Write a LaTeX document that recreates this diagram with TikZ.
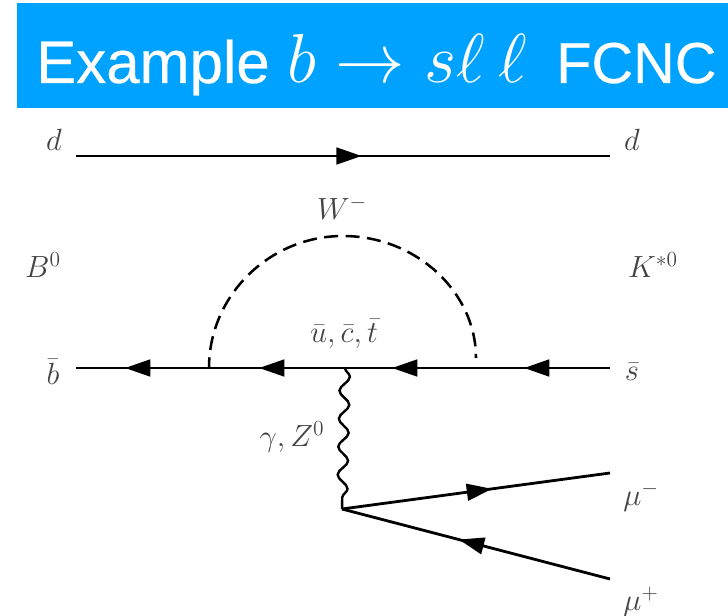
\documentclass[tikz,border=0pt]{standalone}
\usepackage{fix-cm}
\usepackage{amsmath,amssymb}
\usepackage{fontspec}
\setmainfont{Liberation Sans}
\newfontfamily\headfont[FakeBold=0.35]{Liberation Sans}
\usepackage{xcolor}
\usetikzlibrary{arrows.meta,positioning,decorations.markings,decorations.pathmorphing}
\definecolor{BannerBlue}{HTML}{00A2FF}
\definecolor{LabelGray}{HTML}{444444}

\begin{document}
\begin{tikzpicture}[
    x=0.75pt,y=-0.75pt,
    banner/.style={fill=BannerBlue,minimum width=533.25pt,minimum height=78.75pt,inner sep=0pt},
    headline/.style={text=white,inner sep=0pt,font=\headfont\fontsize{45}{50}\selectfont},
    lab/.style={font=\fontsize{23}{26}\selectfont,text=LabelGray,inner sep=0pt},
    fermion/.style={line width=2.1pt,black,postaction={decorate},
                decoration={markings,mark=at position #1 with
                {\arrow{Triangle[length=19pt,width=12.5pt]}}}},
    wboson/.style={line width=1.9pt,black,dash pattern=on 10.5pt off 5.6pt,dash phase=2.5pt},
    photon/.style={line width=1.8pt,black,decorate,
                decoration={snake,segment length=21pt,amplitude=3.8pt}}]

    \useasboundingbox (0,0) rectangle (728,616);

    \node[banner] (title) at (372.5,55.5) {};
    \node[headline,anchor=base west] (headtext) at (36,83)
      {Example\hspace{1pt} {\fontsize{52}{60}\selectfont$b\rightarrow s\ell\mkern3.5mu\ell$}\hspace{9.5pt} {\fontsize{43.3}{50}\selectfont FCNC}};

    % end points of the lines
    \coordinate (dL) at (76,156);
    \coordinate (dR) at (610,156);
    \coordinate (bL) at (76,368);
    \coordinate (sR) at (610,368);
    \coordinate (wL) at (209,368);
    \coordinate (wT) at (343,236);
    \coordinate (wR) at (476,358);
    \coordinate (wB) at (476,368);
    \coordinate (top) at (345,368);
    \coordinate (vtx) at (342,509);
    \coordinate (muM) at (610,473);
    \coordinate (muP) at (610,579);

    % quark lines
    \draw[fermion=0.535] (dL) -- (dR);
    \draw[fermion=0.632] (wL) -- (bL);
    \draw[fermion=0.632] (top) -- (wL);
    \draw[fermion=0.641] (wB) -- (top);
    \draw[fermion=0.642] (sR) -- (wB);

    % W loop
    \draw[wboson] (wL) .. controls (209,295) and (270,236) .. (wT)
      .. controls (416,236) and (476,292) .. (wR);

    % gamma/Z and the muons
    \draw[photon] (top) -- (vtx);
    \draw[fermion=0.56] (vtx) -- (muM);
    \draw[fermion=0.564] (muP) -- (vtx);

    \node[lab] (ld) at (54,140) {$d$};
    \node[lab] (rd) at (632,140) {$d$};
    \node[lab] (lW) at (342,208) {$W^-$};
    \node[lab] (lB) at (43,265) {$B^0$};
    \node[lab] (lK) at (653,265) {$K^{*0}$};
    \node[lab] (lb) at (53,372) {$\bar{b}$};
    \node[lab] (ls) at (632,372) {$\bar{s}$};
    \node[lab] (lq) at (344,334) {$\bar{u},\bar{c},\bar{t}$};
    \node[lab] (lg) at (292,437) {$\gamma,Z^0$};
    \node[lab] (lm) at (641,497) {$\mu^-$};
    \node[lab] (lp) at (641,602) {$\mu^+$};
\end{tikzpicture}
\end{document}
